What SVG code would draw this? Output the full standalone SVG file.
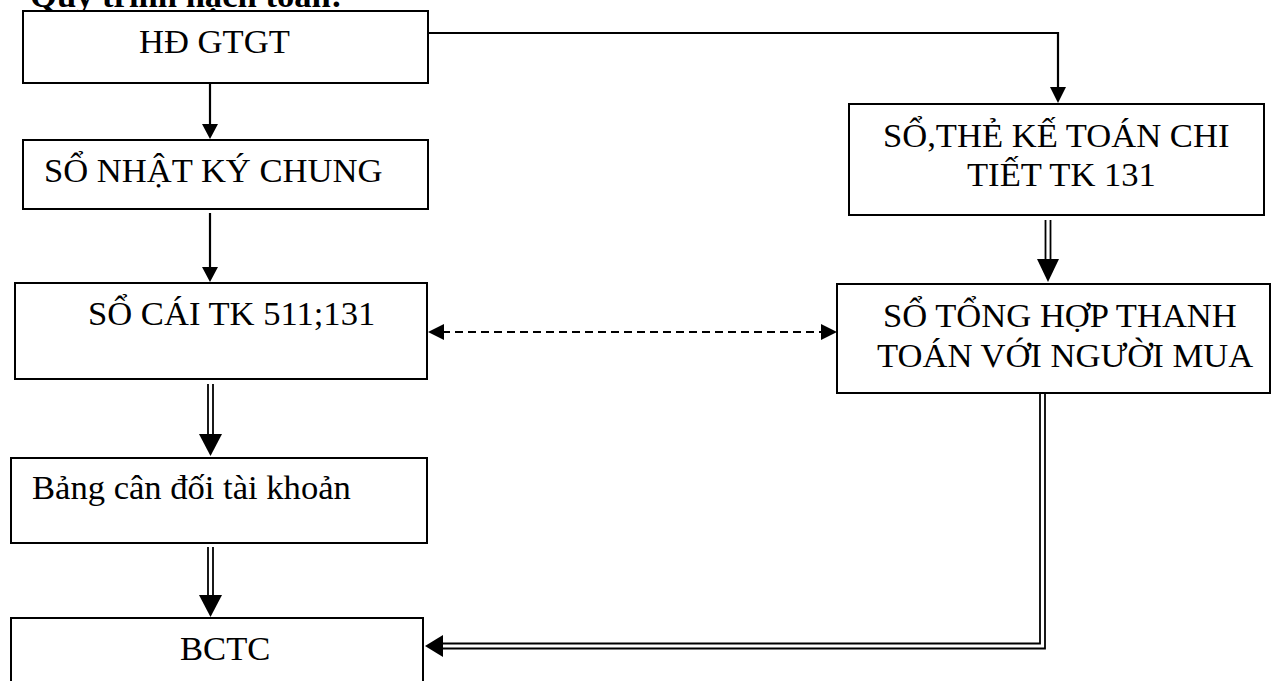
<svg xmlns="http://www.w3.org/2000/svg" width="1276" height="681" viewBox="0 0 1276 681">
<style>
  .box{fill:#fff;stroke:#000;stroke-width:2}
  .t{font-family:"Liberation Serif","Times New Roman",serif;font-size:34.6px;fill:#000}
  .ln{fill:none;stroke:#000;stroke-width:2.2}
  .dl{fill:none;stroke:#000;stroke-width:1.8}
  .ds{fill:none;stroke:#000;stroke-width:2.2;stroke-dasharray:8 5}
  .hd{fill:#000;stroke:none}
</style>
<rect width="1276" height="681" fill="#fff"/>
<text class="t" x="30" y="7" font-weight="bold" font-size="35.5px">Quy trình hạch toán:</text>
<g id="n1"><rect class="box" x="23" y="11" width="405" height="72"/><text class="t" x="139" y="53">HĐ GTGT</text></g>
<g id="n2"><rect class="box" x="23" y="140" width="405" height="69"/><text class="t" x="44" y="182">SỔ NHẬT KÝ CHUNG</text></g>
<g id="n3"><rect class="box" x="15" y="283" width="412" height="96"/><text class="t" x="88" y="325">SỔ CÁI TK 511;131</text></g>
<g id="n4"><rect class="box" x="11" y="458" width="416" height="85"/><text class="t" x="32" y="499">Bảng cân đối tài khoản</text></g>
<g id="n5"><rect class="box" x="11" y="618" width="412" height="80"/><text class="t" x="180" y="660">BCTC</text></g>
<g id="n6"><rect class="box" x="849" y="104" width="415" height="111"/><text class="t" x="883" y="147">SỔ,THẺ KẾ TOÁN CHI</text><text class="t" x="967" y="186">TIẾT TK 131</text></g>
<g id="n7"><rect class="box" x="837" y="284" width="433" height="109"/><text class="t" x="883" y="327">SỔ TỔNG HỢP THANH</text><text class="t" x="877" y="367">TOÁN VỚI NGƯỜI MUA</text></g>
<g id="connectors">
  <line class="ln" x1="210" y1="83" x2="210" y2="124"/>
  <polygon class="hd" points="202,124 218,124 210,139"/>
  <line class="ln" x1="210" y1="213" x2="210" y2="267"/>
  <polygon class="hd" points="202,267 218,267 210,282"/>
  <line class="dl" x1="208" y1="384" x2="208" y2="434"/>
  <line class="dl" x1="213" y1="384" x2="213" y2="434"/>
  <polygon class="hd" points="199,434 222,434 210.5,456"/>
  <line class="dl" x1="208" y1="547" x2="208" y2="595"/>
  <line class="dl" x1="213" y1="547" x2="213" y2="595"/>
  <polygon class="hd" points="199,595 222,595 210.5,617"/>
  <polyline class="ln" points="428,33 1058,33 1058,89"/>
  <polygon class="hd" points="1050,87 1066,87 1058,103"/>
  <line class="dl" x1="1045.5" y1="220" x2="1045.5" y2="259"/>
  <line class="dl" x1="1050.5" y1="220" x2="1050.5" y2="259"/>
  <polygon class="hd" points="1037,259 1059,259 1048,282"/>
  <line class="ds" x1="442" y1="332" x2="823" y2="332"/>
  <polygon class="hd" points="428,332 444,324 444,340"/>
  <polygon class="hd" points="837,332 821,324 821,340"/>
  <polyline class="dl" points="1040,393 1040,643.5 443,643.5"/>
  <polyline class="dl" points="1045,393 1045,648.5 443,648.5"/>
  <polygon class="hd" points="425,646 443,635 443,657"/>
</g>
</svg>
